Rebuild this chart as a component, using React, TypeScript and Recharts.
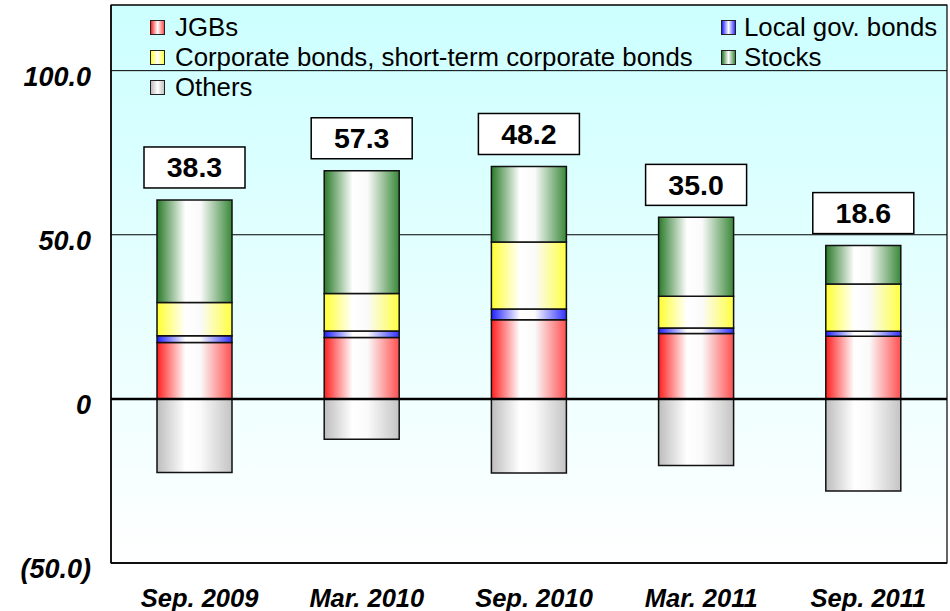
import React from "react";
import {
  BarChart,
  Bar,
  XAxis,
  YAxis,
  CartesianGrid,
  Legend,
  LabelList,
  ReferenceLine,
  ReferenceArea,
} from "recharts";

const categories = ["Sep. 2009", "Mar. 2010", "Sep. 2010", "Mar. 2011", "Sep. 2011"];
const jgbs = [17.2, 18.7, 24.1, 19.9, 19.1];
const localGov = [2.0, 2.0, 3.3, 1.7, 1.5];
const corporate = [10.2, 11.4, 20.4, 9.7, 14.4];
const stocks = [31.2, 37.4, 23.0, 24.0, 11.7];
const others = [-22.4, -12.3, -22.6, -20.3, -28.1];
const netTotals = [38.3, 57.3, 48.2, 35.0, 18.6];
const yTicks = [-50, 0, 50, 100];

const FONT = '"Liberation Sans", Arial, sans-serif';

// stacking order bottom -> top, then the negative part
const series = [
  { key: "jgbs", name: "JGBs", c1: "#ff2020", c2: "#ff5050" },
  { key: "localGov", name: "Local gov. bonds", c1: "#2020ff", c2: "#3030ff" },
  { key: "corporate", name: "Corporate bonds, short-term corporate bonds", c1: "#ffff30", c2: "#ffff40" },
  { key: "stocks", name: "Stocks", c1: "#2a7a2a", c2: "#3a883a" },
  { key: "others", name: "Others", c1: "#bdbdbd", c2: "#c4c4c4" },
];

const data = categories.map((name, i) => ({
  name,
  jgbs: jgbs[i],
  localGov: localGov[i],
  corporate: corporate[i],
  stocks: stocks[i],
  others: others[i],
  net: netTotals[i],
}));

function fmtTick(v: number) {
  if (v === 0) return "0";
  if (v < 0) return "(" + Math.abs(v).toFixed(1) + ")";
  return v.toFixed(1);
}

function YTick(props: any) {
  const { x, y, payload } = props;
  return (
    <text
      x={x - 20}
      y={y}
      dy={15}
      textAnchor="end"
      fontFamily={FONT}
      fontSize={27}
      fontWeight="bold"
      fontStyle="italic"
      fill="#000"
    >
      {fmtTick(payload.value)}
    </text>
  );
}

function XTick(props: any) {
  const { x, y, payload } = props;
  return (
    <text
      x={x + 5}
      y={y}
      dy={44}
      textAnchor="middle"
      fontFamily={FONT}
      fontSize={25.5}
      fontWeight="bold"
      fontStyle="italic"
      fill="#000"
    >
      {payload.value}
    </text>
  );
}

function NetLabel(props: any) {
  const { x, y, width, value } = props;
  const cx = x + width / 2;
  const w = 101;
  const h = 41;
  const top = y - 12 - h;
  return (
    <g>
      <rect x={cx - w / 2} y={top} width={w} height={h} fill="#fff" stroke="#000" strokeWidth={1.5} />
      <text
        x={cx}
        y={top + h / 2 + 10}
        textAnchor="middle"
        fontFamily={FONT}
        fontSize={28.5}
        fontWeight="bold"
        fill="#000"
      >
        {Number(value).toFixed(1)}
      </text>
    </g>
  );
}

// legend order as in the original: JGBs | Local, Corporate | Stocks, Others
const legendOrder = ["jgbs", "localGov", "corporate", "stocks", "others"];

function LegendBox() {
  return (
    <div
      style={{
        display: "grid",
        gridTemplateColumns: "571px auto",
        fontFamily: FONT,
        fontSize: 25.8,
        lineHeight: "30px",
        color: "#000",
      }}
    >
      {legendOrder.map((k, i) => {
        const s = series.find((d) => d.key === k)!;
        return (
          <div key={s.key} style={{ display: "flex", alignItems: "center", whiteSpace: "nowrap" }}>
            <span
              style={{
                display: "inline-block",
                width: 13,
                height: 13,
                border: "1.5px solid #222",
                marginRight: i % 2 === 1 ? 8 : 10,
                background: `linear-gradient(to right, ${s.c1}, #ffffff 50%, ${s.c2})`,
              }}
            />
            {s.name}
          </div>
        );
      })}
    </div>
  );
}

export default function App() {
  return (
    <div style={{ position: "absolute", left: 0, top: 0 }}>
      <BarChart
        width={950}
        height={611}
        data={data}
        margin={{ top: 5, right: 3, left: 0, bottom: 0 }}
        stackOffset="sign"
        barSize={75}
      >
        <defs>
          <linearGradient id="bgGrad" x1="0" y1="0" x2="0" y2="1">
            <stop offset="0%" stopColor="#ccffff" />
            <stop offset="100%" stopColor="#ffffff" />
          </linearGradient>
          {series.map((s) => (
            <linearGradient key={s.key} id={"g_" + s.key} x1="0" y1="0" x2="1" y2="0">
              <stop offset="0%" stopColor={s.c1} />
              <stop offset="38%" stopColor="#ffffff" />
              <stop offset="58%" stopColor="#fafafa" />
              <stop offset="100%" stopColor={s.c2} />
            </linearGradient>
          ))}
        </defs>
        <CartesianGrid vertical={false} stroke="#000" strokeWidth={1} fill="url(#bgGrad)" fillOpacity={1} />
        <XAxis
          dataKey="name"
          height={48}
          axisLine={{ stroke: "#000", strokeWidth: 1.5 }}
          tickLine={false}
          tickSize={0}
          tickMargin={0}
          tick={<XTick />}
        />
        <YAxis
          width={111}
          domain={[-50, 120]}
          ticks={yTicks}
          allowDataOverflow
          axisLine={{ stroke: "#000", strokeWidth: 1.5 }}
          tickLine={false}
          tickSize={0}
          tickMargin={0}
          tick={<YTick />}
        />
        <ReferenceArea y1={-50} y2={120} fill="none" stroke="#000" strokeWidth={1.2} />
        <Legend
          layout="vertical"
          align="center"
          verticalAlign="middle"
          content={<LegendBox />}
          wrapperStyle={{ top: 12, left: 150, width: 800 }}
        />
        {series.map((s) => (
          <Bar
            key={s.key}
            dataKey={s.key}
            name={s.name}
            stackId="a"
            fill={`url(#g_${s.key})`}
            stroke="#111"
            strokeWidth={1.5}
            isAnimationActive={false}
          >
            {s.key === "stocks" ? <LabelList dataKey="net" content={<NetLabel />} /> : null}
          </Bar>
        ))}
        <ReferenceLine y={0} stroke="#000" strokeWidth={2.5} />
      </BarChart>
    </div>
  );
}
